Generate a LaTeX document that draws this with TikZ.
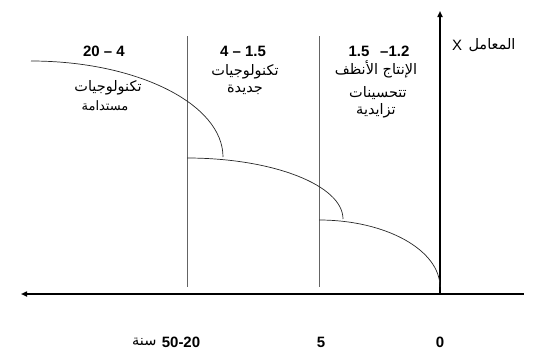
\documentclass[tikz,border=0pt]{standalone}
\usepackage{fontspec}
\setmainfont{Liberation Sans}
\newfontfamily\arabicfont[Script=Arabic]{DejaVu Sans}
\TeXXeTstate=1
\newcommand{\artxt}[1]{{\arabicfont\beginR #1\endR}}
\usetikzlibrary{arrows.meta,positioning}
\definecolor{axgray}{RGB}{100,100,100}

\tikzset{
  axis/.style={line width=1.6pt, -{Triangle[length=6pt,width=5pt]}},
  divline/.style={draw=axgray, line width=0.6pt},
  curveline/.style={draw=black!85, line width=0.7pt},
  rangelbl/.style={font=\fontsize{15}{17}\selectfont\bfseries, inner sep=1pt},
  arlbl/.style={font=\fontsize{14.5}{16}\selectfont, align=center, inner sep=1pt},
  arsmall/.style={font=\fontsize{13}{15}\selectfont, align=center, inner sep=1pt}
}

\begin{document}
\begin{tikzpicture}[x=1pt,y=-1pt]
  \useasboundingbox (0,0) rectangle (535,360);

  % axes
  \coordinate (o) at (440,294);
  \coordinate (xend) at (21,294);
  \coordinate (yend) at (440,11);
  \draw[line width=1.6pt] (o) -- (524,294);
  \draw[axis] (o) -- (xend);
  \draw[axis] (o) -- (yend);

  % dividers
  \coordinate (d1top) at (187,36);
  \coordinate (d1bot) at (187,287);
  \coordinate (d2top) at (319,36);
  \coordinate (d2bot) at (319,287);
  \draw[divline] (d1top) -- (d1bot);
  \draw[divline] (d2top) -- (d2bot);

  % S-curves
  \draw[curveline] (31,61) arc[start angle=-90, end angle=0, x radius=192, y radius=96];
  \draw[curveline] (187,158) arc[start angle=-90, end angle=0, x radius=156, y radius=61];
  \draw[curveline] (319,220) arc[start angle=-90, end angle=0, x radius=121, y radius=67];

  % ranges
  \node[rangelbl] (r1) at (104,51) {20 -- 4};
  \node[rangelbl] (r2) at (243,51) {4 -- 1.5};
  \node[rangelbl] (r3) at (379,51) {1.5 \ \,--1.2};

  \node[arlbl] (t1a) at (108,88) {\artxt{تكنولوجيات}};
  \node[arsmall] (t1b) at (105,106) {\artxt{مستدامة}};
  \node[arlbl] (t2a) at (245,72) {\artxt{تكنولوجيات}};
  \node[arlbl] (t2b) at (245,90) {\artxt{جديدة}};
  \node[arlbl] (t3a) at (376,69) {\artxt{الإنتاج الأنظف}};
  \node[arlbl] (t3b) at (378,93) {\artxt{تتحسينات}};
  \node[arlbl] (t3c) at (376,111) {\artxt{تزايدية}};

  \node[arlbl] (ylbl) at (492,45) {\artxt{المعامل}};
  \node[font=\fontsize{15}{17}\selectfont, inner sep=1pt, left=4pt of ylbl] (xsym) {X};

  % time marks
  \node[rangelbl] (m1) at (181,342) {50-20};
  \node[arlbl, left=3pt of m1] (m1u) {\artxt{سنة}};
  \node[rangelbl] (m2) at (321,342) {5};
  \node[rangelbl] (m3) at (440,342) {0};
\end{tikzpicture}
\end{document}
